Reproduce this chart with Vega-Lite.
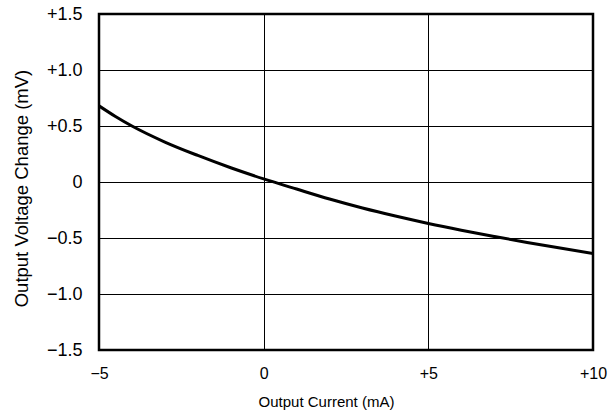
{
  "$schema": "https://vega.github.io/schema/vega-lite/v6.json",
  "autosize": "none",
  "width": 494,
  "height": 336,
  "padding": {"left": 99, "top": 14, "right": 20, "bottom": 68},
  "background": "white",
  "config": {
    "font": "Liberation Sans",
    "view": {"stroke": "black", "strokeWidth": 2.5},
    "axis": {
      "labelFont": "Liberation Sans",
      "titleFont": "Liberation Sans",
      "titleFontWeight": "normal",
      "labelColor": "black",
      "titleColor": "black",
      "gridColor": "black",
      "gridOpacity": 1,
      "gridWidth": 1,
      "domain": false,
      "ticks": false
    }
  },
  "data": {
    "values": [
      {"current": -5, "dv": 0.68},
      {"current": -4.5, "dv": 0.585},
      {"current": -4, "dv": 0.5},
      {"current": -3, "dv": 0.357},
      {"current": -2, "dv": 0.237},
      {"current": -1, "dv": 0.127},
      {"current": 0, "dv": 0.028},
      {"current": 1, "dv": -0.063},
      {"current": 2, "dv": -0.152},
      {"current": 3, "dv": -0.232},
      {"current": 4, "dv": -0.304},
      {"current": 5, "dv": -0.37},
      {"current": 6, "dv": -0.43},
      {"current": 7, "dv": -0.486},
      {"current": 8, "dv": -0.54},
      {"current": 9, "dv": -0.59},
      {"current": 10, "dv": -0.638}
    ]
  },
  "mark": {"type": "line", "color": "black", "strokeWidth": 3, "interpolate": "monotone", "clip": true},
  "encoding": {
    "x": {
      "field": "current",
      "type": "quantitative",
      "scale": {"domain": [-5, 10], "nice": false, "zero": false},
      "axis": {
        "values": [-5, 0, 5, 10],
        "grid": true,
        "labelFlush": false,
        "labelFontSize": 16,
        "titleFontSize": 15,
        "labelPadding": 15,
        "titlePadding": 13,
        "titleX": 227,
        "titleAnchor": null,
        "titleAlign": "center",
        "labelExpr": "datum.value > 0 ? '+' + datum.value : datum.value < 0 ? '\u2212' + abs(datum.value) : '0'",
        "title": "Output Current (mA)"
      }
    },
    "y": {
      "field": "dv",
      "type": "quantitative",
      "scale": {"domain": [-1.5, 1.5], "nice": false, "zero": false},
      "axis": {
        "values": [-1.5, -1, -0.5, 0, 0.5, 1, 1.5],
        "grid": true,
        "labelFontSize": 18,
        "titleFontSize": 18.5,
        "labelPadding": 17,
        "titlePadding": 15,
        "titleY": 174,
        "titleAlign": "center",
        "labelExpr": "datum.value > 0 ? '+' + format(datum.value, '.1f') : datum.value < 0 ? '\u2212' + format(abs(datum.value), '.1f') : '0'",
        "title": "Output Voltage Change (mV)"
      }
    }
  }
}
